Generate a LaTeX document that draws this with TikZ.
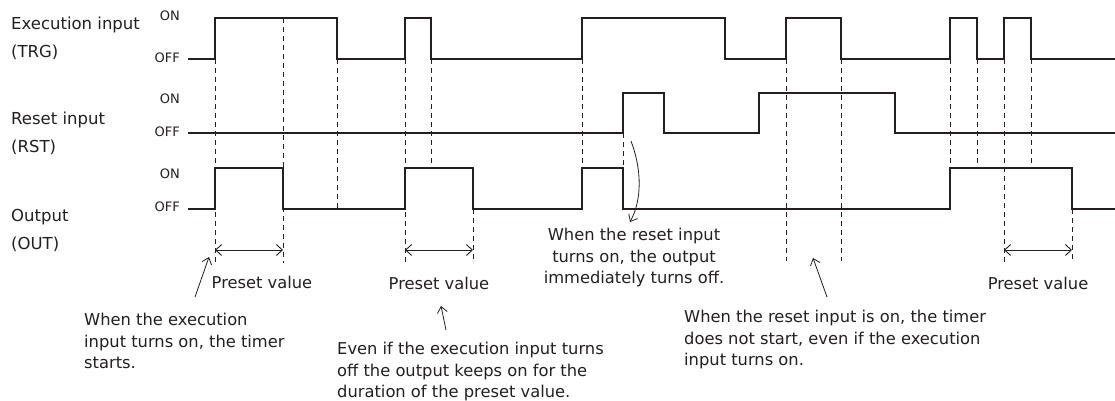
\documentclass[tikz,border=0pt]{standalone}
\usepackage{fontspec}
\setmainfont{DejaVu Sans}
\usetikzlibrary{arrows.meta}
\definecolor{ink}{HTML}{231F20}
\tikzset{
  sig/.style={line width=2.2pt, draw=ink, line join=miter},
  guide/.style={line width=0.9pt, draw=ink, dash pattern=on 5pt off 4pt},
  dim/.style={line width=0.9pt, draw=ink, {Straight Barb[length=6pt,width=11pt]}-{Straight Barb[length=6pt,width=11pt]}},
  callout/.style={line width=0.8pt, draw=ink, -{Straight Barb[length=6pt,width=10pt]}},
  lvl/.style={font=\fontsize{13}{15}\selectfont, text=ink, anchor=east, inner sep=0pt},
  signame/.style={font=\fontsize{16.5}{28}\selectfont, text=ink, anchor=north west, align=left, inner sep=0pt},
  note/.style={font=\fontsize{16.3}{21.5}\selectfont, text=ink, inner sep=0pt},
}
\begin{document}
\begin{tikzpicture}[x=1pt,y=-1pt]
\useasboundingbox (0,0) rectangle (1115,401);

% signal names
\node[signame] (ntrg) at (11,17) {Execution input\\(TRG)};
\node[signame] (nrst) at (11,112) {Reset input\\(RST)};
\node[signame] (nout) at (11,209) {Output\\(OUT)};

% level labels
\node[lvl] (trgon) at (180,16) {ON};
\node[lvl] (trgoff) at (180,58) {OFF};
\node[lvl] (rston) at (180,99) {ON};
\node[lvl] (rstoff) at (180,132) {OFF};
\node[lvl] (outon) at (180,174) {ON};
\node[lvl] (outoff) at (180,207) {OFF};

% guide lines
\draw[guide] (215,59) -- (215,263);
\draw[guide] (283,18) -- (283,263);
\draw[guide] (337,59) -- (337,209);
\draw[guide] (405,59) -- (405,263);
\draw[guide] (431,59) -- (431,168);
\draw[guide] (473,209) -- (473,263);
\draw[guide] (582,59) -- (582,168);
\draw[guide] (623,133) -- (623,168);
\draw[guide] (786,59) -- (786,261);
\draw[guide] (841,59) -- (841,261);
\draw[guide] (950,59) -- (950,168);
\draw[guide] (977,59) -- (977,168);
\draw[guide] (1004,59) -- (1004,262);
\draw[guide] (1031,59) -- (1031,168);
\draw[guide] (1072,209) -- (1072,262);

% signals
\draw[sig] (188,59) -- (215,59) -- (215,18) -- (337,18) -- (337,59) -- (405,59) -- (405,18) -- (431,18) -- (431,59)
  -- (582,59) -- (582,18) -- (725,18) -- (725,59) -- (786,59) -- (786,18) -- (841,18) -- (841,59)
  -- (950,59) -- (950,18) -- (977,18) -- (977,59) -- (1004,59) -- (1004,18) -- (1031,18) -- (1031,59) -- (1115,59);
\draw[sig] (188,133) -- (623,133) -- (623,93) -- (664,93) -- (664,133) -- (759,133) -- (759,93) -- (895,93) -- (895,133) -- (1115,133);
\draw[sig] (188,209) -- (215,209) -- (215,168) -- (283,168) -- (283,209) -- (405,209) -- (405,168) -- (473,168) -- (473,209)
  -- (582,209) -- (582,168) -- (623,168) -- (623,209) -- (950,209) -- (950,168) -- (1072,168) -- (1072,209) -- (1115,209);

% preset value spans
\coordinate (p1a) at (215,250); \coordinate (p1b) at (283,250);
\coordinate (p2a) at (405,250); \coordinate (p2b) at (473,250);
\coordinate (p3a) at (1004,250); \coordinate (p3b) at (1072,250);
\draw[dim] (p1a) -- (p1b);
\draw[dim] (p2a) -- (p2b);
\draw[dim] (p3a) -- (p3b);
\node[note] (pv1) at (262,282) {Preset value};
\node[note] (pv2) at (439,283) {Preset value};
\node[note] (pv3) at (1038,283) {Preset value};

% notes
\node[note, anchor=north west, align=left] (na) at (84,313) {When the execution\\input turns on, the timer\\starts.};
\node[note, anchor=north west, align=left] (nb) at (337,342) {Even if the execution input turns\\off the output keeps on for the\\duration of the preset value.};
\node[note, anchor=north, align=center] (nc) at (634,228) {When the reset input\\turns on, the output\\immediately turns off.};
\node[note, anchor=north west, align=left] (nd) at (684,310) {When the reset input is on, the timer\\does not start, even if the execution\\input turns on.};

% callout arrows
\coordinate (ca0) at (195,297); \coordinate (ca1) at (209,257);
\coordinate (cb0) at (446,330); \coordinate (cb1) at (441,306);
\coordinate (cc0) at (631,141); \coordinate (cc1) at (630,222);
\coordinate (cd0) at (827,297); \coordinate (cd1) at (813,258);
\draw[callout] (ca0) -- (ca1);
\draw[callout] (cb0) -- (cb1);
\draw[callout] (cc0) .. controls (642,170) and (642,200) .. (cc1);
\draw[callout] (cd0) -- (cd1);
\end{tikzpicture}
\end{document}
